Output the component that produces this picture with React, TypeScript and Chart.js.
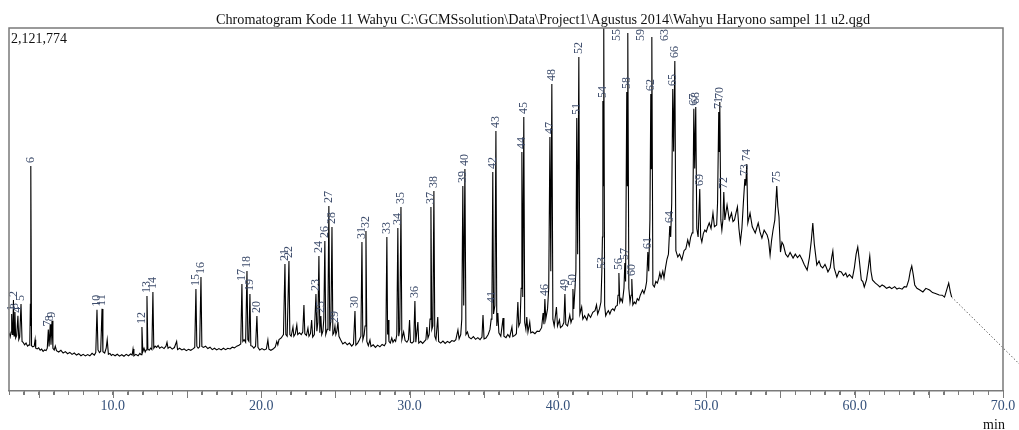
import React, { useEffect, useRef } from 'react';
import { Chart, registerables } from 'chart.js';

Chart.register(...registerables);

// ---------- texts ----------
const TITLE =
  'Chromatogram Kode 11 Wahyu C:\\GCMSsolution\\Data\\Project1\\Agustus 2014\\Wahyu Haryono sampel 11 u2.qgd';
const MAX_LABEL = '2,121,774';
const X_UNIT = 'min';

// ---------- axis ----------
const X_MIN = 3; // minutes
const X_MAX = 70;
const Y_MAX_K = 2121.774; // intensity, thousands of counts
const X_LABEL_EVERY = 10;

// ---------- chromatogram trace: [retention time (min), intensity (x1000)] ----------
const trace03to10: [number, number][] = [
  [3.00, 339], [3.08, 316], [3.14, 345], [3.18, 450], [3.22, 330], [3.26, 340], [3.30, 532], [3.34, 322],
  [3.40, 462], [3.45, 310], [3.52, 325], [3.60, 440], [3.66, 300], [3.72, 315], [3.81, 508], [3.88, 290],
  [3.95, 285], [4.05, 270], [4.15, 280], [4.25, 262], [4.35, 270], [4.40, 268], [4.44, 510], [4.46, 380],
  [4.48, 1315], [4.52, 265], [4.60, 258], [4.70, 262], [4.76, 300], [4.80, 250], [4.90, 246], [5.00, 252],
  [5.10, 238], [5.20, 245], [5.30, 232], [5.40, 240], [5.50, 236], [5.58, 250], [5.65, 360], [5.70, 260],
  [5.78, 390], [5.83, 270], [5.90, 410], [5.96, 250], [6.05, 240], [6.12, 262], [6.20, 236], [6.35, 228],
  [6.50, 238], [6.65, 222], [6.80, 230], [6.95, 218], [7.10, 226], [7.25, 214], [7.40, 222], [7.55, 210],
  [7.70, 218], [7.85, 206], [8.00, 214], [8.15, 205], [8.30, 213], [8.45, 206], [8.60, 220], [8.75, 210],
  [8.85, 225], [8.93, 475], [9.00, 240], [9.10, 225], [9.18, 232], [9.27, 480], [9.33, 230], [9.45, 222],
  [9.55, 250], [9.62, 300], [9.70, 215], [9.80, 220], [9.90, 208], [10.00, 214],
];

const trace10to21: [number, number][] = [
  [10.15, 206], [10.30, 215], [10.45, 204], [10.60, 212], [10.75, 203], [10.90, 214], [11.05, 206], [11.20, 216],
  [11.30, 210], [11.36, 245], [11.42, 205], [11.55, 214], [11.70, 206], [11.82, 220], [11.90, 212], [11.96, 374],
  [12.02, 230], [12.10, 250], [12.18, 228], [12.24, 240], [12.30, 555], [12.36, 245], [12.45, 238], [12.55, 250],
  [12.63, 242], [12.70, 579], [12.76, 250], [12.85, 262], [12.95, 255], [13.05, 266], [13.15, 250], [13.30, 258],
  [13.45, 248], [13.58, 262], [13.65, 285], [13.72, 250], [13.85, 258], [14.00, 245], [14.15, 254], [14.30, 290],
  [14.36, 242], [14.50, 250], [14.65, 240], [14.80, 246], [14.95, 236], [15.10, 244], [15.25, 238], [15.40, 246],
  [15.52, 255], [15.60, 596], [15.66, 262], [15.75, 250], [15.85, 258], [15.94, 666], [16.00, 260], [16.10, 255],
  [16.25, 262], [16.40, 248], [16.55, 256], [16.70, 242], [16.85, 250], [17.00, 240], [17.15, 248], [17.30, 240],
  [17.45, 250], [17.60, 242], [17.75, 250], [17.90, 246], [18.05, 256], [18.20, 252], [18.35, 262], [18.50, 268],
  [18.62, 275], [18.70, 625], [18.76, 290], [18.85, 300], [18.95, 285], [19.04, 701], [19.10, 300], [19.17, 290],
  [19.24, 567], [19.30, 265], [19.40, 262], [19.50, 250], [19.62, 262], [19.71, 438], [19.78, 255], [19.90, 240],
  [20.05, 248], [20.20, 240], [20.35, 246], [20.45, 298], [20.52, 244], [20.65, 238], [20.80, 245], [20.95, 258],
  [21.05, 290], [21.12, 270],
];

const trace21to25: [number, number][] = [
  [21.20, 300], [21.35, 310], [21.50, 330], [21.60, 742], [21.66, 330], [21.75, 320], [21.87, 760], [21.93, 330],
  [22.02, 320], [22.14, 374], [22.20, 320], [22.30, 335], [22.40, 386], [22.46, 330], [22.58, 340], [22.70, 330],
  [22.80, 345], [22.88, 503], [22.94, 335], [23.05, 325], [23.15, 368], [23.22, 320], [23.32, 335], [23.40, 415],
  [23.47, 315], [23.58, 330], [23.69, 567], [23.75, 350], [23.82, 400], [23.89, 789], [23.95, 340], [24.02, 438],
  [24.08, 330], [24.16, 350], [24.22, 420], [24.29, 877], [24.35, 330], [24.45, 360], [24.50, 480], [24.56, 1081],
  [24.62, 350], [24.70, 420], [24.77, 959], [24.83, 330], [24.90, 340], [24.97, 380], [25.03, 330], [25.10, 350],
  [25.17, 403], [25.24, 320],
];

const trace25to34: [number, number][] = [
  [25.35, 300], [25.50, 275], [25.65, 285], [25.80, 270], [25.95, 280], [26.10, 262], [26.22, 275], [26.32, 468],
  [26.38, 268], [26.50, 280], [26.62, 300], [26.72, 320], [26.79, 871], [26.85, 300], [26.94, 330], [27.00, 380],
  [27.06, 935], [27.12, 290], [27.22, 265], [27.33, 298], [27.40, 260], [27.55, 270], [27.70, 255], [27.85, 268],
  [28.00, 258], [28.15, 272], [28.30, 265], [28.40, 280], [28.47, 900], [28.52, 330], [28.55, 415], [28.61, 290],
  [28.70, 280], [28.80, 310], [28.88, 285], [28.98, 300], [29.06, 290], [29.14, 330], [29.21, 953], [29.27, 320],
  [29.34, 360], [29.42, 1076], [29.48, 300], [29.60, 345], [29.70, 295], [29.82, 285], [29.92, 300], [30.00, 415],
  [30.06, 285], [30.16, 280], [30.28, 290], [30.36, 526], [30.42, 285], [30.56, 403], [30.62, 280], [30.75, 290],
  [30.88, 278], [31.00, 290], [31.10, 300], [31.17, 374], [31.24, 310], [31.32, 330], [31.38, 420], [31.44, 1076],
  [31.50, 360], [31.57, 380], [31.64, 1169], [31.70, 320], [31.78, 300], [31.90, 432], [31.96, 290], [32.10, 280],
  [32.25, 292], [32.40, 278], [32.55, 290], [32.70, 282], [32.85, 295], [33.00, 290], [33.12, 300], [33.26, 357],
  [33.34, 305], [33.45, 330], [33.52, 420], [33.59, 1198], [33.65, 500], [33.73, 1298], [33.80, 330], [33.90, 345],
];

const trace34to43: [number, number][] = [
  [34.00, 315], [34.15, 305], [34.30, 318], [34.45, 302], [34.60, 312], [34.75, 300], [34.88, 315], [34.95, 444],
  [35.02, 305], [35.15, 310], [35.30, 330], [35.42, 360], [35.50, 420], [35.55, 497], [35.61, 1280], [35.66, 450],
  [35.75, 500], [35.82, 1520], [35.88, 380], [35.95, 456], [36.02, 340], [36.15, 320], [36.30, 427], [36.36, 320],
  [36.50, 312], [36.62, 330], [36.75, 315], [36.90, 374], [36.96, 318], [37.10, 325], [37.20, 335], [37.30, 520],
  [37.36, 380], [37.45, 400], [37.52, 600], [37.57, 1397], [37.63, 550], [37.70, 1602], [37.76, 400], [37.84, 360],
  [37.90, 432], [37.98, 345], [38.10, 403], [38.17, 340], [38.30, 345], [38.45, 335], [38.60, 350], [38.75, 348],
  [38.90, 370], [39.00, 456], [39.06, 390], [39.12, 538], [39.18, 420], [39.30, 480], [39.38, 600], [39.46, 1485],
  [39.52, 700], [39.59, 1794], [39.66, 420], [39.75, 380], [39.90, 491], [39.97, 380], [40.10, 415], [40.17, 370],
  [40.30, 380], [40.40, 400], [40.47, 567], [40.53, 390], [40.65, 380], [40.80, 444], [40.88, 400], [40.95, 420],
  [41.01, 596], [41.07, 480], [41.15, 600], [41.21, 700], [41.27, 1596], [41.33, 800], [41.41, 1952], [41.48, 450],
  [41.60, 491], [41.68, 420], [41.80, 440], [41.95, 415], [42.05, 450], [42.20, 430], [42.35, 460], [42.50, 470],
  [42.60, 503], [42.68, 450], [42.80, 480], [42.90, 520],
];

const trace43to48: [number, number][] = [
  [42.96, 696], [43.00, 900], [43.03, 1695], [43.06, 1200], [43.09, 2122], [43.15, 500], [43.22, 440], [43.30, 456],
  [43.40, 470], [43.50, 450], [43.60, 473], [43.70, 480], [43.80, 470], [43.90, 495], [44.00, 500], [44.05, 560],
  [44.11, 690], [44.17, 520], [44.25, 540], [44.35, 520], [44.45, 600], [44.51, 748], [44.56, 640], [44.64, 1748],
  [44.68, 1200], [44.71, 2093], [44.78, 600], [44.86, 520], [44.93, 560], [44.98, 655], [45.05, 503], [45.15, 520],
  [45.25, 510], [45.35, 540], [45.45, 530], [45.55, 560], [45.70, 590], [45.80, 570], [45.90, 600], [45.98, 640],
  [46.06, 812], [46.12, 700], [46.20, 1000], [46.26, 1736], [46.29, 1300], [46.33, 2069], [46.40, 620], [46.50, 608],
  [46.60, 640], [46.70, 630], [46.80, 660], [46.87, 690], [46.95, 660], [47.07, 700], [47.15, 660], [47.25, 720],
  [47.35, 770], [47.45, 800], [47.54, 964], [47.60, 900], [47.67, 1100], [47.74, 1765], [47.80, 1400], [47.88, 1929],
  [47.95, 820],
];

const trace48to55: [number, number][] = [
  [48.08, 783], [48.20, 800], [48.35, 766], [48.50, 820], [48.62, 830], [48.75, 883], [48.85, 850], [48.95, 900],
  [49.05, 924], [49.10, 1100], [49.16, 1650], [49.22, 1300], [49.29, 1660], [49.36, 950], [49.45, 900], [49.56, 1181],
  [49.62, 900], [49.70, 871], [49.80, 920], [49.90, 941], [50.00, 930], [50.10, 960], [50.20, 982], [50.32, 950],
  [50.45, 1040], [50.55, 960], [50.70, 970], [50.76, 1100], [50.84, 1631], [50.88, 1400], [50.91, 1689], [50.98, 1000],
  [51.05, 941], [51.12, 1000], [51.18, 1163], [51.25, 1000], [51.40, 1087], [51.55, 1000], [51.70, 1040], [51.80, 990],
  [51.90, 1000], [52.00, 1040], [52.10, 1076], [52.20, 950], [52.30, 871], [52.40, 950], [52.50, 1100], [52.60, 1239],
  [52.66, 1200], [52.73, 1327], [52.80, 982], [52.95, 1040], [53.10, 960], [53.30, 924], [53.50, 982], [53.62, 930],
  [53.75, 894], [53.90, 940], [54.10, 912], [54.20, 880], [54.30, 795], [54.40, 880], [54.50, 941], [54.62, 1000],
  [54.75, 1198], [54.82, 1080], [54.90, 1017],
];

const trace55to67: [number, number][] = [
  [55.00, 812], [55.10, 870], [55.20, 853], [55.35, 800], [55.50, 783], [55.65, 810], [55.85, 777], [56.00, 800],
  [56.15, 780], [56.30, 795], [56.45, 770], [56.60, 740], [56.80, 707], [56.95, 780], [57.08, 880], [57.18, 982],
  [57.28, 860], [57.45, 737], [57.60, 760], [57.72, 730], [57.85, 719], [58.00, 740], [58.10, 720], [58.20, 696],
  [58.35, 720], [58.45, 780], [58.53, 818], [58.62, 720], [58.80, 666], [58.95, 700], [59.10, 696], [59.25, 675],
  [59.40, 690], [59.50, 666], [59.65, 680], [59.85, 660], [59.98, 720], [60.10, 800], [60.21, 842], [60.32, 760],
  [60.45, 649], [60.55, 640], [60.65, 608], [60.80, 650], [60.92, 720], [61.02, 789], [61.10, 700], [61.20, 649],
  [61.40, 630], [61.55, 620], [61.70, 608], [61.85, 620], [62.00, 612], [62.15, 600], [62.35, 608], [62.50, 598],
  [62.70, 610], [62.85, 596], [63.00, 602], [63.20, 595], [63.35, 610], [63.50, 608], [63.65, 650], [63.75, 700],
  [63.85, 731], [63.95, 680], [64.05, 620], [64.20, 600], [64.40, 590], [64.60, 579], [64.80, 600], [65.05, 590],
  [65.25, 575], [65.45, 570], [65.70, 561], [65.90, 560], [66.06, 549], [66.20, 590], [66.34, 631], [66.45, 580],
  [66.54, 549],
];

// dotted drift line after end of acquisition
const driftLine: [number, number][] = [[66.54, 549], [71.1, 158]];

// ---------- peak labels ----------
const peakIds = [
  1, 2, 3, 4, 5, 6, 7, 8, 9, 10, 11, 12, 13, 14, 15, 16, 17, 18, 19, 20, 21, 22, 23, 24, 25,
  26, 27, 28, 29, 30, 31, 32, 33, 34, 35, 36, 37, 38, 39, 40, 41, 42, 43, 44, 45, 46, 47, 48, 49, 50,
  51, 52, 53, 54, 55, 56, 57, 58, 59, 60, 61, 62, 63, 64, 65, 66, 67, 68, 69, 70, 71, 72, 73, 74, 75,
];
const peakTimes = [
  3.18, 3.30, 3.40, 3.60, 3.81, 4.48, 5.65, 5.78, 5.90, 8.93, 9.27, 11.96, 12.30, 12.70, 15.60, 15.94, 18.70, 19.04,
  19.24, 19.71, 21.60, 21.87, 23.69, 23.89, 24.02, 24.29, 24.56, 24.77, 24.97, 26.32, 26.79, 27.06, 28.47, 29.21,
  29.42, 30.36, 31.44, 31.64, 33.59, 33.73, 35.55, 35.61, 35.82, 37.57, 37.70, 39.12, 39.46, 39.59, 40.47, 41.01,
  41.27, 41.41, 42.96, 43.03, 43.09, 44.11, 44.51, 44.64, 44.71, 44.98, 46.06, 46.26, 46.33, 47.54, 47.74, 47.88,
  49.16, 49.29, 49.56, 50.91, 50.84, 51.18, 52.60, 52.73, 54.75,
];

const SERIF = '"Liberation Serif", "Times New Roman", serif';
const AXIS_GREY = '#7a7a7a';
const TICK_TEXT = '#34507a';
const PEAK_TEXT = '#3e4d6c';

export default function App() {
  const ref = useRef<HTMLCanvasElement | null>(null);

  useEffect(() => {
    const trace = [
      ...trace03to10,
      ...trace10to21,
      ...trace21to25,
      ...trace25to34,
      ...trace34to43,
      ...trace43to48,
      ...trace48to55,
      ...trace55to67,
    ];

    const decorPlugin = {
      id: 'decor',
      afterDraw(chart: any) {
        const { ctx, chartArea: a, scales } = chart;
        const x = scales.x;
        ctx.save();
        // frame (left, top, right)
        ctx.strokeStyle = AXIS_GREY;
        ctx.lineWidth = 1.5;
        ctx.beginPath();
        ctx.moveTo(a.left, a.bottom);
        ctx.lineTo(a.left, a.top);
        ctx.lineTo(a.right, a.top);
        ctx.lineTo(a.right, a.bottom);
        ctx.stroke();
        // ticks: every minute, longer every 5 min
        ctx.lineWidth = 1;
        ctx.beginPath();
        for (let v = X_MIN; v <= X_MAX; v += 1) {
          const px = Math.round(x.getPixelForValue(v)) + 0.5;
          ctx.moveTo(px, a.bottom);
          ctx.lineTo(px, a.bottom + (v % 5 === 0 ? 7 : 4));
        }
        ctx.stroke();

        // title
        ctx.fillStyle = '#111';
        ctx.font = `14px ${SERIF}`;
        ctx.textBaseline = 'alphabetic';
        ctx.textAlign = 'left';
        const targetW = 654;
        const w = ctx.measureText(TITLE).width;
        const sx = targetW / w;
        ctx.save();
        ctx.translate(216, 24);
        ctx.scale(sx, 1);
        ctx.fillText(TITLE, 0, 0);
        ctx.restore();

        // max intensity
        ctx.font = `14px ${SERIF}`;
        ctx.fillText(MAX_LABEL, a.left + 2, a.top + 15);

        // unit
        ctx.textAlign = 'center';
        ctx.fillText(X_UNIT, a.right - 9, 429);

        ctx.restore();
      },
      afterDatasetsDraw(chart: any) {
        const { ctx, chartArea: a, scales } = chart;
        const x = scales.x;
        const y = scales.y;
        ctx.save();
        ctx.font = `12px ${SERIF}`;
        ctx.fillStyle = PEAK_TEXT;
        ctx.textBaseline = 'middle';
        peakIds.forEach((id, i) => {
          const t = peakTimes[i];
          const pt = trace.find((p) => p[0] === t);
          if (!pt) return;
          const px = x.getPixelForValue(t);
          const py = y.getPixelForValue(pt[1]);
          const text = String(id);
          const tw = ctx.measureText(text).width;
          ctx.save();
          if (py - 3 - tw < a.top + 2) {
            ctx.translate(px + 13, a.top + 7);
            ctx.rotate(-Math.PI / 2);
            ctx.textAlign = 'center';
          } else {
            ctx.translate(px, py - 3);
            ctx.rotate(-Math.PI / 2);
            ctx.textAlign = 'left';
          }
          ctx.fillText(text, 0, 0);
          ctx.restore();
        });
        ctx.restore();
      },
    };

    const chart = new Chart(ref.current as HTMLCanvasElement, {
      type: 'line',
      data: {
        datasets: [
          {
            data: trace.map(([t, v]) => ({ x: t, y: v })),
            borderColor: '#000',
            borderWidth: 1.1,
            pointRadius: 0,
            tension: 0,
            fill: false,
          },
          {
            data: driftLine.map(([t, v]) => ({ x: t, y: v })),
            borderColor: '#666',
            borderWidth: 1,
            borderDash: [1.5, 2],
            pointRadius: 0,
            tension: 0,
            fill: false,
            clip: false,
          } as any,
        ],
      },
      options: {
        animation: false,
        responsive: false,
        devicePixelRatio: 1,
        layout: { padding: { left: 9, right: 16, top: 28, bottom: 0 } },
        plugins: {
          legend: { display: false },
          tooltip: { enabled: false },
          title: { display: false },
        },
        scales: {
          x: {
            type: 'linear',
            min: X_MIN,
            max: X_MAX,
            afterFit: (s: any) => {
              s.height = 39;
            },
            ticks: {
              stepSize: 1,
              autoSkip: false,
              maxRotation: 0,
              minRotation: 0,
              padding: 3,
              color: TICK_TEXT,
              font: { family: SERIF, size: 14 },
              callback: (v: any) => (Number(v) % X_LABEL_EVERY === 0 ? Number(v).toFixed(1) : ''),
            },
            grid: {
              drawOnChartArea: false,
              drawTicks: true,
              tickLength: 4,
              tickColor: AXIS_GREY,
              tickWidth: 1,
            },
            border: { display: true, color: AXIS_GREY, width: 1.5 },
          },
          y: { display: false, min: 0, max: Y_MAX_K },
        },
      } as any,
      plugins: [decorPlugin],
    });
    return () => chart.destroy();
  }, []);

  return (
    <div style={{ position: 'absolute', left: 0, top: 0, width: 1019, height: 430, background: '#fff' }}>
      <canvas ref={ref} width={1019} height={430} style={{ display: 'block' }} />
    </div>
  );
}
